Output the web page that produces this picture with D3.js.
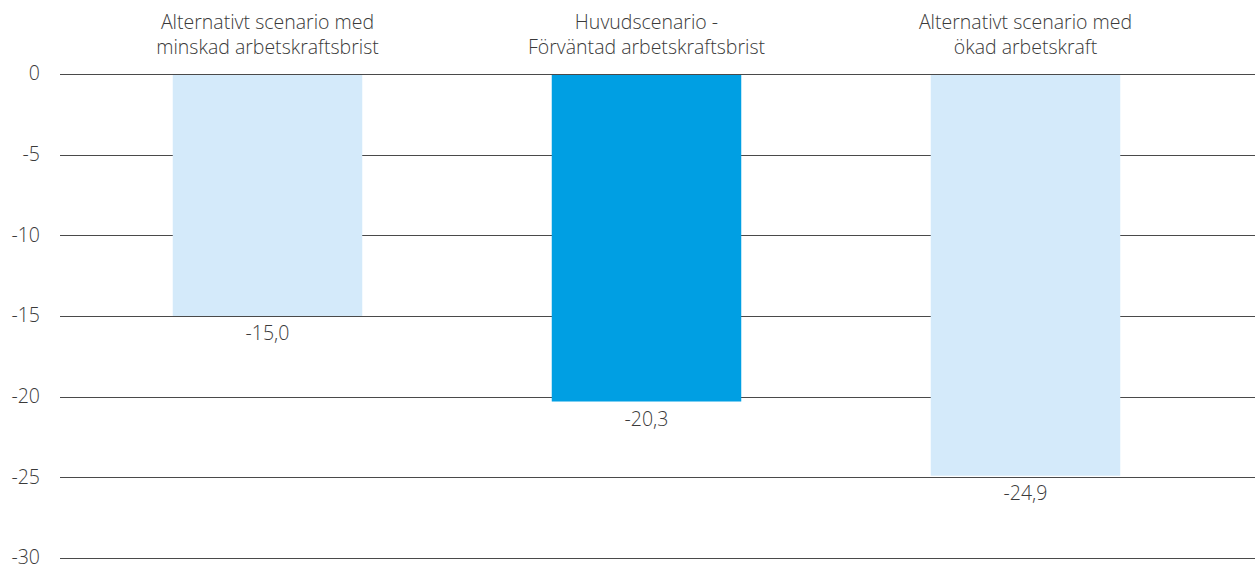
<!DOCTYPE html>
<html>
<head>
<meta charset="utf-8">
<script src="https://cdn.jsdelivr.net/npm/d3@7"></script>
<style>
  body { margin: 0; background: #fff; }
  text { font-family: "Open Sans", sans-serif; font-weight: 300; fill: #3a3a3a; }
</style>
</head>
<body>
<div id="chart"></div>
<script>
// data
const categories = [
  ["Alternativt scenario med", "minskad arbetskraftsbrist"],
  ["Huvudscenario -", "Förväntad arbetskraftsbrist"],
  ["Alternativt scenario med", "ökad arbetskraft"]
];
const values = [-15.0, -20.3, -24.9];
const barColors = ["#d4eafa", "#009fe3", "#d4eafa"];
const yTicks = [0, -5, -10, -15, -20, -25, -30];

const width = 1255;
const height = 567;
const fontSize = "19.5px";

const svg = d3.select("#chart")
  .append("svg")
  .attr("width", width)
  .attr("height", height);

// scales
const x = d3.scaleBand()
  .domain(d3.range(categories.length))
  .range([78, 1215])
  .paddingInner(0.5)
  .paddingOuter(0.25);

const y = d3.scaleLinear()
  .domain([0, -30])
  .range([74, 558]);

// gridlines
svg.append("g")
  .selectAll("line")
  .data(yTicks)
  .enter()
  .append("line")
  .attr("x1", 60)
  .attr("x2", width)
  .attr("y1", d => Math.round(y(d)) + 0.5)
  .attr("y2", d => Math.round(y(d)) + 0.5)
  .attr("stroke", "#4a4a4a")
  .attr("stroke-width", 1);

// y labels
svg.append("g")
  .selectAll("text")
  .data(yTicks)
  .enter()
  .append("text")
  .attr("x", 40)
  .attr("y", d => y(d))
  .attr("dy", "0.33em")
  .attr("text-anchor", "end")
  .style("font-size", fontSize)
  .text(d => d);

// bars
svg.append("g")
  .selectAll("rect")
  .data(values)
  .enter()
  .append("rect")
  .attr("x", (d, i) => x(i))
  .attr("y", y(0) + 1)
  .attr("width", x.bandwidth())
  .attr("height", d => y(d) - y(0) - 1)
  .attr("fill", (d, i) => barColors[i]);

// value labels
svg.append("g")
  .selectAll("text")
  .data(values)
  .enter()
  .append("text")
  .attr("x", (d, i) => x(i) + x.bandwidth() / 2)
  .attr("y", d => y(d) + 24)
  .attr("text-anchor", "middle")
  .style("font-size", fontSize)
  .text(d => d3.format(".1f")(d).replace(".", ",").replace("−", "-"));

// category labels
const cat = svg.append("g")
  .selectAll("text")
  .data(categories)
  .enter()
  .append("text")
  .attr("x", (d, i) => x(i) + x.bandwidth() / 2)
  .attr("text-anchor", "middle")
  .style("font-size", fontSize);

cat.selectAll("tspan")
  .data(d => d)
  .enter()
  .append("tspan")
  .attr("x", function() { return d3.select(this.parentNode).attr("x"); })
  .attr("y", (d, j) => 29 + j * 25)
  .text(d => d);
</script>
</body>
</html>
